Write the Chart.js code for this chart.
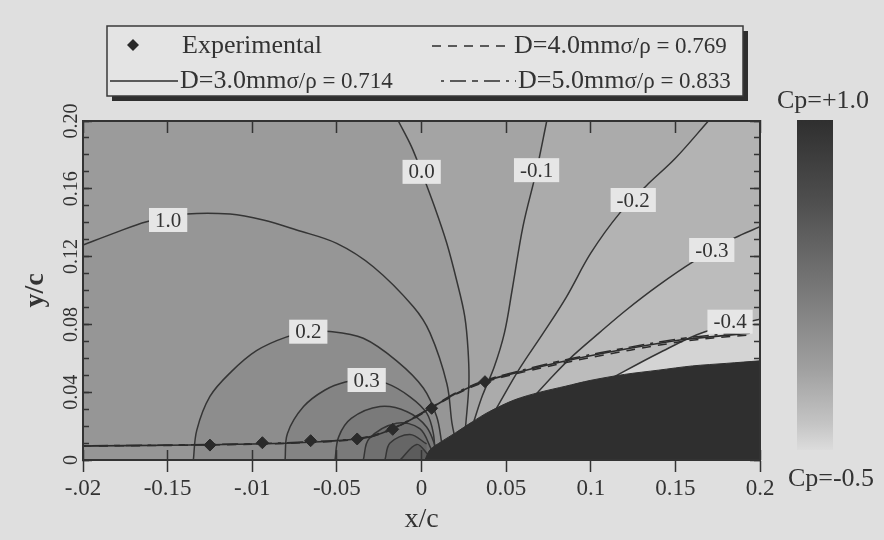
<!DOCTYPE html>
<html>
<head>
<meta charset="utf-8">
<script src="https://cdn.jsdelivr.net/npm/chart.js@4.4.1/dist/chart.umd.min.js"></script>
<style>
html,body{margin:0;padding:0;background:#dfdfdf;}
canvas{display:block;}
</style>
</head>
<body>
<canvas id="chart" width="884" height="540"></canvas>
<script>
// ---------------- data ----------------
const xTickLabels = ['-.02', '-0.15', '-.01', '-0.05', '0', '0.05', '0.1', '0.15', '0.2'];
const yTickLabels = ['0', '0.04', '0.08', '0.12', '0.16', '0.20'];
const colorbarLabels = ['Cp=+1.0', 'Cp=-0.5'];

// experimental points
const expX = [-0.125, -0.094, -0.0655, -0.038, -0.017, 0.006, 0.0375];
const expY = [0.0088, 0.0102, 0.0114, 0.0124, 0.0181, 0.0305, 0.0462];

// cavity / streamline curves
const lineX = [-0.2, -0.15, -0.1, -0.06, -0.04, -0.03, -0.0186, -0.005, 0.007, 0.02, 0.0365, 0.0582, 0.0877, 0.1232, 0.1527, 0.1722, 0.194];
const d3Y = [0.0083, 0.0087, 0.0094, 0.0108, 0.0122, 0.0138, 0.0177, 0.0245, 0.0315, 0.039, 0.0462, 0.0521, 0.059, 0.0659, 0.0708, 0.0728, 0.0748];
const d4Y = [0.0082, 0.0086, 0.0093, 0.0106, 0.0120, 0.0136, 0.0175, 0.0243, 0.0312, 0.0386, 0.0457, 0.0514, 0.0580, 0.0648, 0.0697, 0.0720, 0.0738];
const d5Y = [0.0084, 0.0088, 0.0096, 0.0110, 0.0124, 0.0141, 0.0180, 0.0248, 0.0318, 0.0394, 0.0466, 0.0527, 0.0597, 0.0666, 0.0716, 0.0737, 0.0756];

// body outline
const bodyX = [0.002, 0.005, 0.012, 0.02, 0.03, 0.04, 0.055, 0.07, 0.085, 0.1, 0.12, 0.14, 0.16, 0.18, 0.2];
const bodyY = [0, 0.006, 0.011, 0.016, 0.0225, 0.0285, 0.0355, 0.04, 0.0435, 0.047, 0.0505, 0.053, 0.0555, 0.057, 0.0585];

// contour lines (Cp levels)
const c00X = [-0.0137, -0.006, 0.0, 0.0075, 0.0149, 0.021, 0.0255, 0.0275, 0.028, 0.026];
const c00Y = [0.2, 0.185, 0.170, 0.150, 0.128, 0.105, 0.085, 0.065, 0.045, 0.019];
const cm1X = [0.074, 0.068, 0.06, 0.0535, 0.049, 0.043, 0.036, 0.031];
const cm1Y = [0.2, 0.171, 0.138, 0.1, 0.075, 0.055, 0.038, 0.023];
const cm2X = [0.1695, 0.15, 0.133, 0.117, 0.1, 0.0855, 0.072, 0.058, 0.044];
const cm2Y = [0.2, 0.178, 0.162, 0.1455, 0.122, 0.096, 0.075, 0.054, 0.030];
const cm3X = [0.2, 0.185, 0.1606, 0.14, 0.121, 0.105, 0.09, 0.078, 0.067];
const cm3Y = [0.1376, 0.131, 0.117, 0.103, 0.0885, 0.075, 0.062, 0.05, 0.038];
const cm4X = [0.2, 0.1675, 0.14, 0.11];
const cm4Y = [0.083, 0.0757, 0.063, 0.047];
const c10X = [-0.2, -0.182, -0.1624, -0.1387, -0.1131, -0.0935, -0.0738, -0.0501, -0.0285, -0.0048, 0.005, 0.015, 0.018, 0.02];
const c10Y = [0.1268, 0.1337, 0.1406, 0.1451, 0.1451, 0.1416, 0.1357, 0.1278, 0.114, 0.0904, 0.075, 0.045, 0.0217, 0.012];
const c02X = [-0.1348, -0.1328, -0.125, -0.1125, -0.0975, -0.08, -0.0669, -0.0541, -0.0344, -0.0147, 0.0011, 0.009, 0.012];
const c02Y = [0, 0.0175, 0.0375, 0.052, 0.0645, 0.0725, 0.0752, 0.0758, 0.0718, 0.0585, 0.0425, 0.0255, 0.0098];
const c03X = [-0.0806, -0.0792, -0.0697, -0.057, -0.045, -0.034, -0.0206, -0.0068, 0.0031, 0.007, 0.008];
const c03Y = [0, 0.0157, 0.0315, 0.0413, 0.046, 0.0472, 0.0452, 0.0373, 0.0276, 0.0157, 0.002];
const c04X = [-0.0511, -0.049, -0.0415, -0.0245, -0.0085, 0.003, 0.009];
const c04Y = [0, 0.0135, 0.0245, 0.0315, 0.0285, 0.0195, 0.006];
const c05X = [-0.0344, -0.031, -0.0147, -0.001, 0.006];
const c05Y = [0, 0.0125, 0.0217, 0.0185, 0.006];
const c06X = [-0.0216, -0.0186, -0.0068, 0.003];
const c06Y = [0, 0.01, 0.0150, 0.0095];
const c07X = [-0.0127, -0.0028, 0.004];
const c07Y = [0, 0.0092, 0.003];

// contour labels
const cLabelText = ['1.0', '0.0', '-0.1', '-0.2', '-0.3', '-0.4', '0.2', '0.3'];
const cLabelX = [-0.1497, 0.0001, 0.068, 0.1251, 0.1715, 0.1823, -0.0669, -0.0324];
const cLabelY = [0.1416, 0.170, 0.171, 0.1534, 0.1239, 0.0816, 0.0757, 0.0472];

// ---------------- styling ----------------
const FONT = "'Liberation Serif', 'DejaVu Serif', serif";
const INK = '#333333';
const LINE = '#353535';
const fieldBase = '#9b9b9b';

function pts(xs, ys) { return xs.map((x, i) => ({x: x, y: ys[i]})); }

function contour(name, xs, ys, kind, color) {
  return {
    label: name, data: pts(xs, ys), borderColor: LINE, borderWidth: 1.5,
    pointRadius: 0, tension: 0.35, fill: false, order: 5,
    regionKind: kind, regionColor: color
  };
}

const datasets = [
  {label: 'Experimental', key: 'exp', data: pts(expX, expY), showLine: false,
   pointStyle: 'rectRot', pointRadius: 6, pointBackgroundColor: '#2a2a2a',
   pointBorderColor: '#2a2a2a', backgroundColor: '#2a2a2a', borderColor: '#2a2a2a', order: 0},
  {label: 'D=3.0mmσ/ρ = 0.714', key: 'd3', data: pts(lineX, d3Y), borderColor: '#2c2c2c',
   borderWidth: 1.6, pointRadius: 0, tension: 0.3, fill: false, order: 1},
  {label: 'D=4.0mmσ/ρ = 0.769', key: 'd4', data: pts(lineX, d4Y), borderColor: '#2c2c2c',
   borderWidth: 1.5, borderDash: [9, 7], pointRadius: 0, tension: 0.3, fill: false, order: 1},
  {label: 'D=5.0mmσ/ρ = 0.833', key: 'd5', data: pts(lineX, d5Y), borderColor: '#2c2c2c',
   borderWidth: 1.5, borderDash: [3, 6, 16, 6, 6, 6, 16, 6], pointRadius: 0, tension: 0.3, fill: false, order: 1},
  {label: 'body', data: pts(bodyX, bodyY), fill: 'origin', backgroundColor: '#2f2f2f',
   borderColor: '#2f2f2f', borderWidth: 1, pointRadius: 0, tension: 0.3, order: 3},
  contour('Cp 0.0', c00X, c00Y, 'neg', '#a4a4a4'),
  contour('Cp -0.1', cm1X, cm1Y, 'neg', '#ababab'),
  contour('Cp -0.2', cm2X, cm2Y, 'neg', '#b3b3b3'),
  contour('Cp -0.3', cm3X, cm3Y, 'neg', '#bcbcbc'),
  contour('Cp -0.4', cm4X, cm4Y, 'neg', '#d4d4d4'),
  contour('Cp 1.0', c10X, c10Y, 'pos', '#969696'),
  contour('Cp 0.2', c02X, c02Y, 'pos', '#8d8d8d'),
  contour('Cp 0.3', c03X, c03Y, 'pos', '#848484'),
  contour('Cp 0.4', c04X, c04Y, 'pos', '#7a7a7a'),
  contour('Cp 0.5', c05X, c05Y, 'pos', '#707070'),
  contour('Cp 0.6', c06X, c06Y, 'pos', '#666666'),
  contour('Cp 0.7', c07X, c07Y, 'pos', '#5c5c5c')
];

// ---------------- plugins ----------------
function tracePath(ctx, elems) {
  elems.forEach((p, k) => {
    if (k === 0) { ctx.moveTo(p.x, p.y); return; }
    const q = elems[k - 1];
    if (q.cp2x !== undefined && p.cp1x !== undefined) {
      ctx.bezierCurveTo(q.cp2x, q.cp2y, p.cp1x, p.cp1y, p.x, p.y);
    } else {
      ctx.lineTo(p.x, p.y);
    }
  });
}

const fieldPlugin = {
  id: 'field',
  beforeDraw(chart) {
    const {ctx, chartArea: ca} = chart;
    const xs = chart.scales.x, ys = chart.scales.y;
    ctx.save();
    ctx.beginPath();
    ctx.rect(ca.left, ca.top, ca.right - ca.left, ca.bottom - ca.top);
    ctx.clip();
    ctx.fillStyle = fieldBase;
    ctx.fillRect(ca.left, ca.top, ca.right - ca.left, ca.bottom - ca.top);
    const y0 = ys.getPixelForValue(ys.min), yTop = ys.getPixelForValue(ys.max);
    const xRight = xs.getPixelForValue(xs.max);
    chart.data.datasets.forEach((ds, i) => {
      if (!ds.regionKind) return;
      const elems = chart.getDatasetMeta(i).data;
      const first = ds.data[0], last = ds.data[ds.data.length - 1];
      ctx.beginPath();
      tracePath(ctx, elems);
      ctx.lineTo(xs.getPixelForValue(last.x), y0);
      if (ds.regionKind === 'neg') {
        ctx.lineTo(xRight, y0);
        ctx.lineTo(xRight, yTop);
        ctx.lineTo(xs.getPixelForValue(first.x), yTop);
      } else {
        ctx.lineTo(xs.getPixelForValue(first.x), y0);
      }
      ctx.closePath();
      ctx.fillStyle = ds.regionColor;
      ctx.fill();
    });
    ctx.restore();
  }
};

const labelPlugin = {
  id: 'contourLabels',
  afterDatasetsDraw(chart) {
    const {ctx} = chart;
    const xs = chart.scales.x, ys = chart.scales.y;
    ctx.save();
    ctx.font = '21px ' + FONT;
    ctx.textAlign = 'center';
    ctx.textBaseline = 'middle';
    cLabelText.forEach((t, i) => {
      const px = xs.getPixelForValue(cLabelX[i]);
      const py = ys.getPixelForValue(cLabelY[i]);
      const w = ctx.measureText(t).width + 12;
      const h = 24;
      ctx.fillStyle = '#e6e6e6';
      ctx.fillRect(px - w / 2, py - h / 2, w, h);
      ctx.fillStyle = INK;
      ctx.fillText(t, px, py + 1);
    });
    ctx.restore();
  }
};

const legendPlugin = {
  id: 'boxLegend',
  afterDraw(chart) {
    const {ctx} = chart;
    const byKey = {};
    chart.data.datasets.forEach(ds => { if (ds.key) byKey[ds.key] = ds; });
    const L = {left: 107, top: 26, right: 743, bottom: 96};
    ctx.save();
    ctx.fillStyle = '#2e2e2e';
    ctx.fillRect(L.left + 5, L.top + 5, L.right - L.left, L.bottom - L.top);
    ctx.fillStyle = '#e4e4e4';
    ctx.fillRect(L.left, L.top, L.right - L.left, L.bottom - L.top);
    ctx.strokeStyle = '#3a3a3a';
    ctx.lineWidth = 1.5;
    ctx.strokeRect(L.left, L.top, L.right - L.left, L.bottom - L.top);

    const slots = [
      {key: 'exp', marker: 133, y: 45, tx: 182, base: 53},
      {key: 'd4', s0: 432, s1: 508, y: 46, tx: 514, base: 53},
      {key: 'd3', s0: 110, s1: 178, y: 81, tx: 180, base: 88},
      {key: 'd5', s0: 441, s1: 516, y: 81, tx: 518, base: 88}
    ];
    slots.forEach(s => {
      const ds = byKey[s.key];
      if (!ds) return;
      if (s.marker !== undefined) {
        const r = 6;
        ctx.fillStyle = ds.pointBackgroundColor;
        ctx.beginPath();
        ctx.moveTo(s.marker, s.y - r);
        ctx.lineTo(s.marker + r, s.y);
        ctx.lineTo(s.marker, s.y + r);
        ctx.lineTo(s.marker - r, s.y);
        ctx.closePath();
        ctx.fill();
      } else {
        ctx.strokeStyle = ds.borderColor;
        ctx.lineWidth = 1.6;
        ctx.setLineDash(ds.borderDash || []);
        ctx.beginPath();
        ctx.moveTo(s.s0, s.y);
        ctx.lineTo(s.s1, s.y);
        ctx.stroke();
        ctx.setLineDash([]);
      }
      const label = ds.label;
      const cut = label.indexOf('σ');
      const main = cut >= 0 ? label.slice(0, cut) : label;
      const sub = cut >= 0 ? label.slice(cut) : '';
      ctx.fillStyle = INK;
      ctx.textAlign = 'left';
      ctx.textBaseline = 'alphabetic';
      ctx.font = '26px ' + FONT;
      ctx.fillText(main, s.tx, s.base);
      const w = ctx.measureText(main).width;
      if (sub) {
        ctx.font = '23px ' + FONT;
        ctx.fillText(sub, s.tx + w, s.base);
      }
    });
    ctx.restore();
  }
};

const colorbarPlugin = {
  id: 'colorbar',
  afterDraw(chart) {
    const {ctx} = chart;
    const x0 = 797, x1 = 833, y0 = 120, y1 = 450;
    ctx.save();
    const g = ctx.createLinearGradient(0, y0, 0, y1);
    g.addColorStop(0, '#2f2f2f');
    g.addColorStop(0.25, '#4f4f4f');
    g.addColorStop(0.5, '#767676');
    g.addColorStop(0.75, '#9f9f9f');
    g.addColorStop(0.92, '#c4c4c4');
    g.addColorStop(1, '#dcdcdc');
    ctx.fillStyle = g;
    ctx.fillRect(x0, y0, x1 - x0, y1 - y0);
    ctx.fillStyle = INK;
    ctx.font = '26px ' + FONT;
    ctx.textAlign = 'center';
    ctx.textBaseline = 'middle';
    ctx.fillText(colorbarLabels[0], 823, 101);
    ctx.fillText(colorbarLabels[1], 831, 479);
    ctx.restore();
  }
};

// ---------------- scales ----------------
const tickFontX = {family: FONT, size: 23};
const tickFontY = {family: FONT, size: 20};

function innerAxis(axis, position, step, len, weight, showBorder) {
  const min = axis === 'x' ? -0.2 : 0;
  const max = 0.2;
  return {
    type: 'linear', axis: axis, position: position, min: min, max: max, weight: weight,
    ticks: {display: false, stepSize: step, maxTicksLimit: 100},
    grid: {drawOnChartArea: false, tickLength: len, tickColor: INK, tickWidth: 1.5},
    border: {display: showBorder, color: INK, width: 2, z: 1},
    afterFit(s) { if (axis === 'x') s.height = 0; else s.width = 0; }
  };
}

const chart = new Chart(document.getElementById('chart'), {
  type: 'line',
  data: {datasets: datasets},
  options: {
    responsive: false,
    animation: false,
    devicePixelRatio: 1,
    events: [],
    layout: {padding: {top: 121, right: 124, bottom: 0, left: 0}},
    plugins: {
      legend: {display: false},
      tooltip: {enabled: false},
      filler: {drawTime: 'beforeDatasetDraw'}
    },
    scales: {
      x: {
        type: 'linear', position: 'bottom', min: -0.2, max: 0.2, weight: 1,
        ticks: {
          stepSize: 0.05, maxTicksLimit: 100, autoSkip: false, maxRotation: 0, minRotation: 0,
          color: INK, font: tickFontX, padding: 3,
          callback: (v) => xTickLabels[Math.round((v + 0.2) / 0.05)]
        },
        grid: {drawOnChartArea: false, tickLength: 12, tickColor: INK, tickWidth: 1.5},
        border: {display: true, color: INK, width: 2, z: 1},
        title: {display: true, text: 'x/c', color: INK, font: {family: FONT, size: 28}, padding: {top: 0, bottom: 4}},
        afterFit(s) { s.height = 80; }
      },
      xIn: innerAxis('x', 'bottom', 0.05, -10, 0, false),
      xTop: innerAxis('x', 'top', 0.05, -12, 1, true),
      y: {
        type: 'linear', position: 'left', min: 0, max: 0.2, weight: 1,
        ticks: {
          stepSize: 0.04, maxTicksLimit: 100, autoSkip: false, minRotation: 90, maxRotation: 90,
          crossAlign: 'center', padding: 3, color: INK, font: tickFontY,
          callback: (v) => yTickLabels[Math.round(v / 0.04)]
        },
        grid: {drawOnChartArea: false, tickLength: -9, tickColor: INK, tickWidth: 1.5},
        border: {display: true, color: INK, width: 2, z: 1},
        title: {display: true, text: 'y/c', color: INK, font: {family: FONT, size: 28, weight: 'bold'}, padding: {top: 19, bottom: 0}},
        afterFit(s) { s.width = 83; }
      },
      yMin: innerAxis('y', 'left', 0.01, -6, 0, false),
      yR: innerAxis('y', 'right', 0.04, -10, 0, true),
      yRMin: innerAxis('y', 'right', 0.01, -6, 1, false)
    }
  },
  plugins: [fieldPlugin, labelPlugin, legendPlugin, colorbarPlugin]
});
</script>
</body>
</html>
